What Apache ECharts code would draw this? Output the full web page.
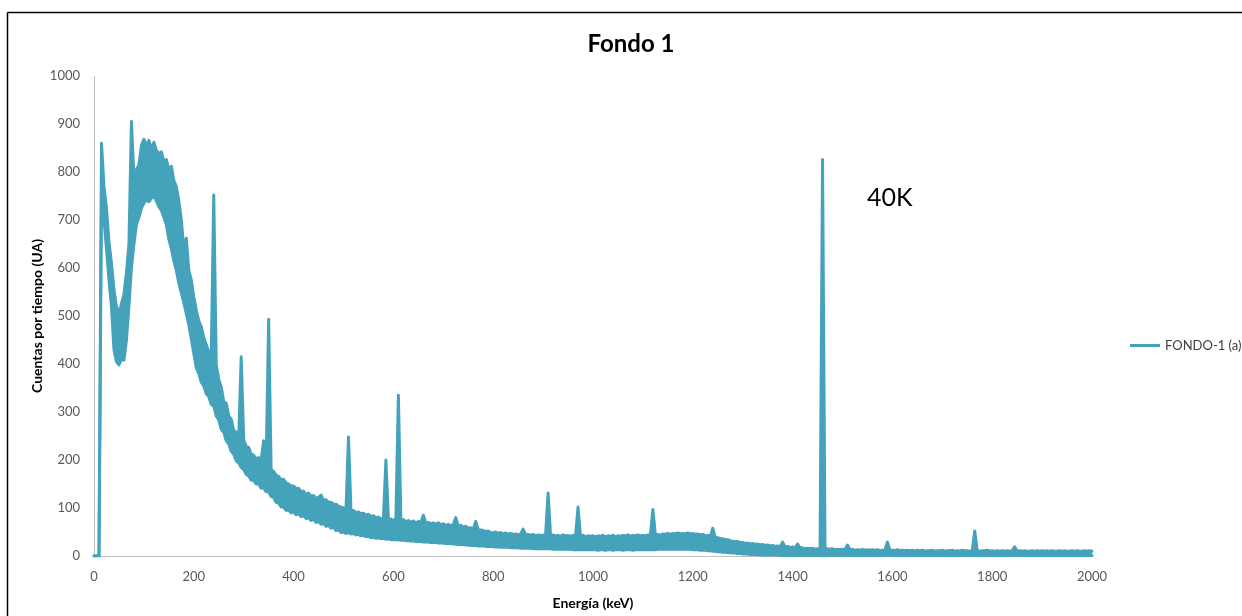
<!DOCTYPE html>
<html>
<head>
<meta charset="utf-8">
<script src="https://cdn.jsdelivr.net/npm/echarts@6/dist/echarts.min.js"></script>
<style>
html,body{margin:0;padding:0;background:#fff;}
#chart{width:1242px;height:616px;}
</style>
</head>
<body>
<div id="chart"></div>
<script>
const title = 'Fondo 1';
const seriesName = 'FONDO-1 (a)';
const xAxisName = 'Energía (keV)';
const yAxisName = 'Cuentas por tiempo (UA)';
const annotation = '40K';
const stepKeV = 5; // one sample every 5 keV, from 0 to 2000 keV
// upper edge of the noisy trace (includes the peaks)
const upper = [
  0,0,0,860,770,725,655,610,555,520,505,525,545,590,650,905,790,805,815,855,
  868,855,866,848,862,845,838,842,822,826,805,812,782,770,740,700,640,662,595,575,
  540,512,490,478,455,440,425,418,752,398,368,352,322,318,292,285,262,258,245,415,
  242,228,226,212,210,202,205,198,240,192,493,180,176,168,166,158,160,152,150,146,
  146,140,141,134,135,128,131,124,126,120,122,127,116,117,112,112,108,108,104,102,
  100,96,248,94,95,90,92,88,89,85,87,82,84,80,81,77,79,200,76,77,
  74,78,335,73,76,71,74,70,73,69,72,70,85,69,70,67,69,66,69,65,
  67,64,66,63,65,80,62,64,60,62,58,59,56,72,55,54,53,51,52,49,
  48,50,47,49,46,48,45,47,45,46,44,46,56,44,45,43,45,42,44,43,
  43,45,131,42,44,42,43,41,44,42,43,41,43,42,102,41,43,40,42,41,
  42,40,42,41,43,40,42,41,43,40,42,41,43,42,44,41,43,42,44,42,
  43,42,44,43,97,44,45,43,46,45,47,45,47,46,48,46,47,46,48,46,
  47,45,46,44,45,42,43,40,58,39,38,36,36,34,34,32,31,30,30,28,
  28,26,27,25,26,24,25,23,24,22,23,21,22,20,21,19,29,19,20,18,
  19,17,25,17,17,15,16,15,16,14,15,14,826,15,15,14,15,13,14,13,
  14,13,23,13,14,12,13,12,14,12,13,12,13,12,13,11,12,12,29,12,
  12,11,13,11,12,11,12,11,12,10,12,11,12,10,11,11,12,10,11,11,
  12,10,11,11,12,10,11,10,12,11,11,10,11,52,11,10,11,11,12,10,
  11,10,11,10,11,10,11,10,11,19,10,11,10,11,10,10,11,10,11,10,
  11,10,11,10,11,10,10,11,10,11,10,10,11,10,11,10,10,11,10,11,10
];
// lower edge of the noisy trace
const lower = [
  0,0,0,740,700,640,575,520,430,405,398,410,408,450,520,600,650,690,705,725,
  735,742,738,745,750,740,728,720,706,690,660,640,615,595,568,548,528,505,482,452,
  422,392,380,362,354,338,332,316,312,292,284,264,258,240,234,218,212,198,194,184,
  180,170,167,158,158,150,150,141,142,134,134,124,122,112,110,102,102,95,96,90,
  92,86,88,82,84,78,80,74,77,70,72,66,68,62,64,58,60,53,54,49,
  50,47,49,46,47,44,45,42,43,40,41,38,39,37,38,36,37,35,36,34,
  34,34,34,33,33,32,32,31,31,30,30,30,29,29,29,28,28,28,27,27,
  27,26,26,26,25,25,24,24,24,23,23,22,22,22,21,21,21,20,20,20,
  19,19,19,18,18,18,18,17,17,17,17,16,16,16,16,16,15,15,15,15,
  15,15,15,15,14,14,14,14,14,14,14,14,13,13,13,13,13,13,13,13,
  13,13,12,13,13,12,13,13,12,13,13,13,12,13,13,13,12,13,13,13,
  13,13,13,13,13,13,14,14,14,14,14,14,14,14,14,14,14,14,14,14,
  13,13,13,12,12,12,11,11,10,10,9,9,8,8,7,7,6,6,5,5,
  4,4,4,3,3,3,3,2,2,2,2,2,2,2,2,1,1,1,1,1,
  1,1,1,1,1,1,1,1,1,1,1,1,1,1,1,1,1,1,1,1,
  1,1,1,1,1,1,1,1,1,1,1,1,1,1,1,1,1,1,1,1,
  1,1,1,1,1,1,1,1,1,1,1,1,1,1,1,1,1,1,1,1,
  1,1,1,1,1,1,1,1,1,1,1,1,1,1,1,1,1,1,1,1,
  1,1,1,1,1,1,1,1,1,1,1,1,1,1,1,1,1,1,1,1,
  1,1,1,1,1,1,1,1,1,1,1,1,1,1,1,1,1,1,1,1,1
];
const energies = upper.map((_, i) => i * stepKeV);
const xTickStep = 200;
const yTicks = {min: 0, max: 1000, interval: 100};

const spread = upper.map((u, i) => u - lower[i]);
const color = '#44A2BB';
const font = 'Lato, "Open Sans", sans-serif';

const chart = echarts.init(document.getElementById('chart'), null, {renderer: 'canvas'});
chart.setOption({
  animation: false,
  backgroundColor: '#fff',
  title: {
    text: title, left: 626, top: 27, textAlign: 'center',
    textStyle: {fontFamily: font, fontSize: 24, fontWeight: 'bold', color: '#000'}
  },
  legend: {
    data: [{name: seriesName, icon: 'rect'}],
    left: 1125, top: 334, itemWidth: 30, itemHeight: 3, itemGap: 2,
    textStyle: {fontFamily: font, fontSize: 13, color: '#404040'}
  },
  grid: {left: 94, right: 150, top: 76, bottom: 60, containLabel: false},
  xAxis: {
    type: 'category', data: energies.map(String), boundaryGap: false,
    name: xAxisName, nameLocation: 'middle', nameGap: 40, nameMoveOverlap: false,
    nameTextStyle: {fontFamily: font, fontSize: 14, fontWeight: 'bold', color: '#000'},
    axisLine: {show: true, lineStyle: {color: '#BFBFBF', width: 1}},
    axisTick: {show: false}, splitLine: {show: false},
    axisLabel: {
      fontFamily: font, fontSize: 13, color: '#595959', margin: 14,
      interval: (idx) => energies[idx] % xTickStep === 0
    }
  },
  yAxis: {
    type: 'value', min: yTicks.min, max: yTicks.max, interval: yTicks.interval,
    name: yAxisName, nameLocation: 'middle', nameGap: 50, nameRotate: 90, nameMoveOverlap: false,
    nameTextStyle: {fontFamily: font, fontSize: 14, fontWeight: 'bold', color: '#000'},
    axisLine: {show: true, lineStyle: {color: '#BFBFBF', width: 1}},
    axisTick: {show: false}, splitLine: {show: false},
    axisLabel: {fontFamily: font, fontSize: 13, color: '#595959', margin: 14, formatter: v => String(v)}
  },
  series: [
    {
      name: 'lowerEdge', type: 'line', stack: 'trace', data: lower,
      showSymbol: false, symbol: 'none', sampling: null,
      lineStyle: {color: color, width: 3, join: 'round', cap: 'round'},
      itemStyle: {color: color}
    },
    {
      name: seriesName, type: 'line', stack: 'trace', data: spread,
      showSymbol: false, symbol: 'none', sampling: null,
      lineStyle: {color: color, width: 3, join: 'round', cap: 'round'},
      areaStyle: {color: color, opacity: 1},
      itemStyle: {color: color}
    }
  ],
  graphic: [
    {type: 'text', left: 867, top: 185, style: {text: annotation, font: '25px ' + font, fill: '#000'}},
    {type: 'line', shape: {x1: 7.5, y1: 12.5, x2: 1242, y2: 12.5}, style: {stroke: '#000', lineWidth: 1.5}},
    {type: 'line', shape: {x1: 7.5, y1: 12.5, x2: 7.5, y2: 616}, style: {stroke: '#000', lineWidth: 1.5}}
  ]
});
</script>
</body>
</html>
